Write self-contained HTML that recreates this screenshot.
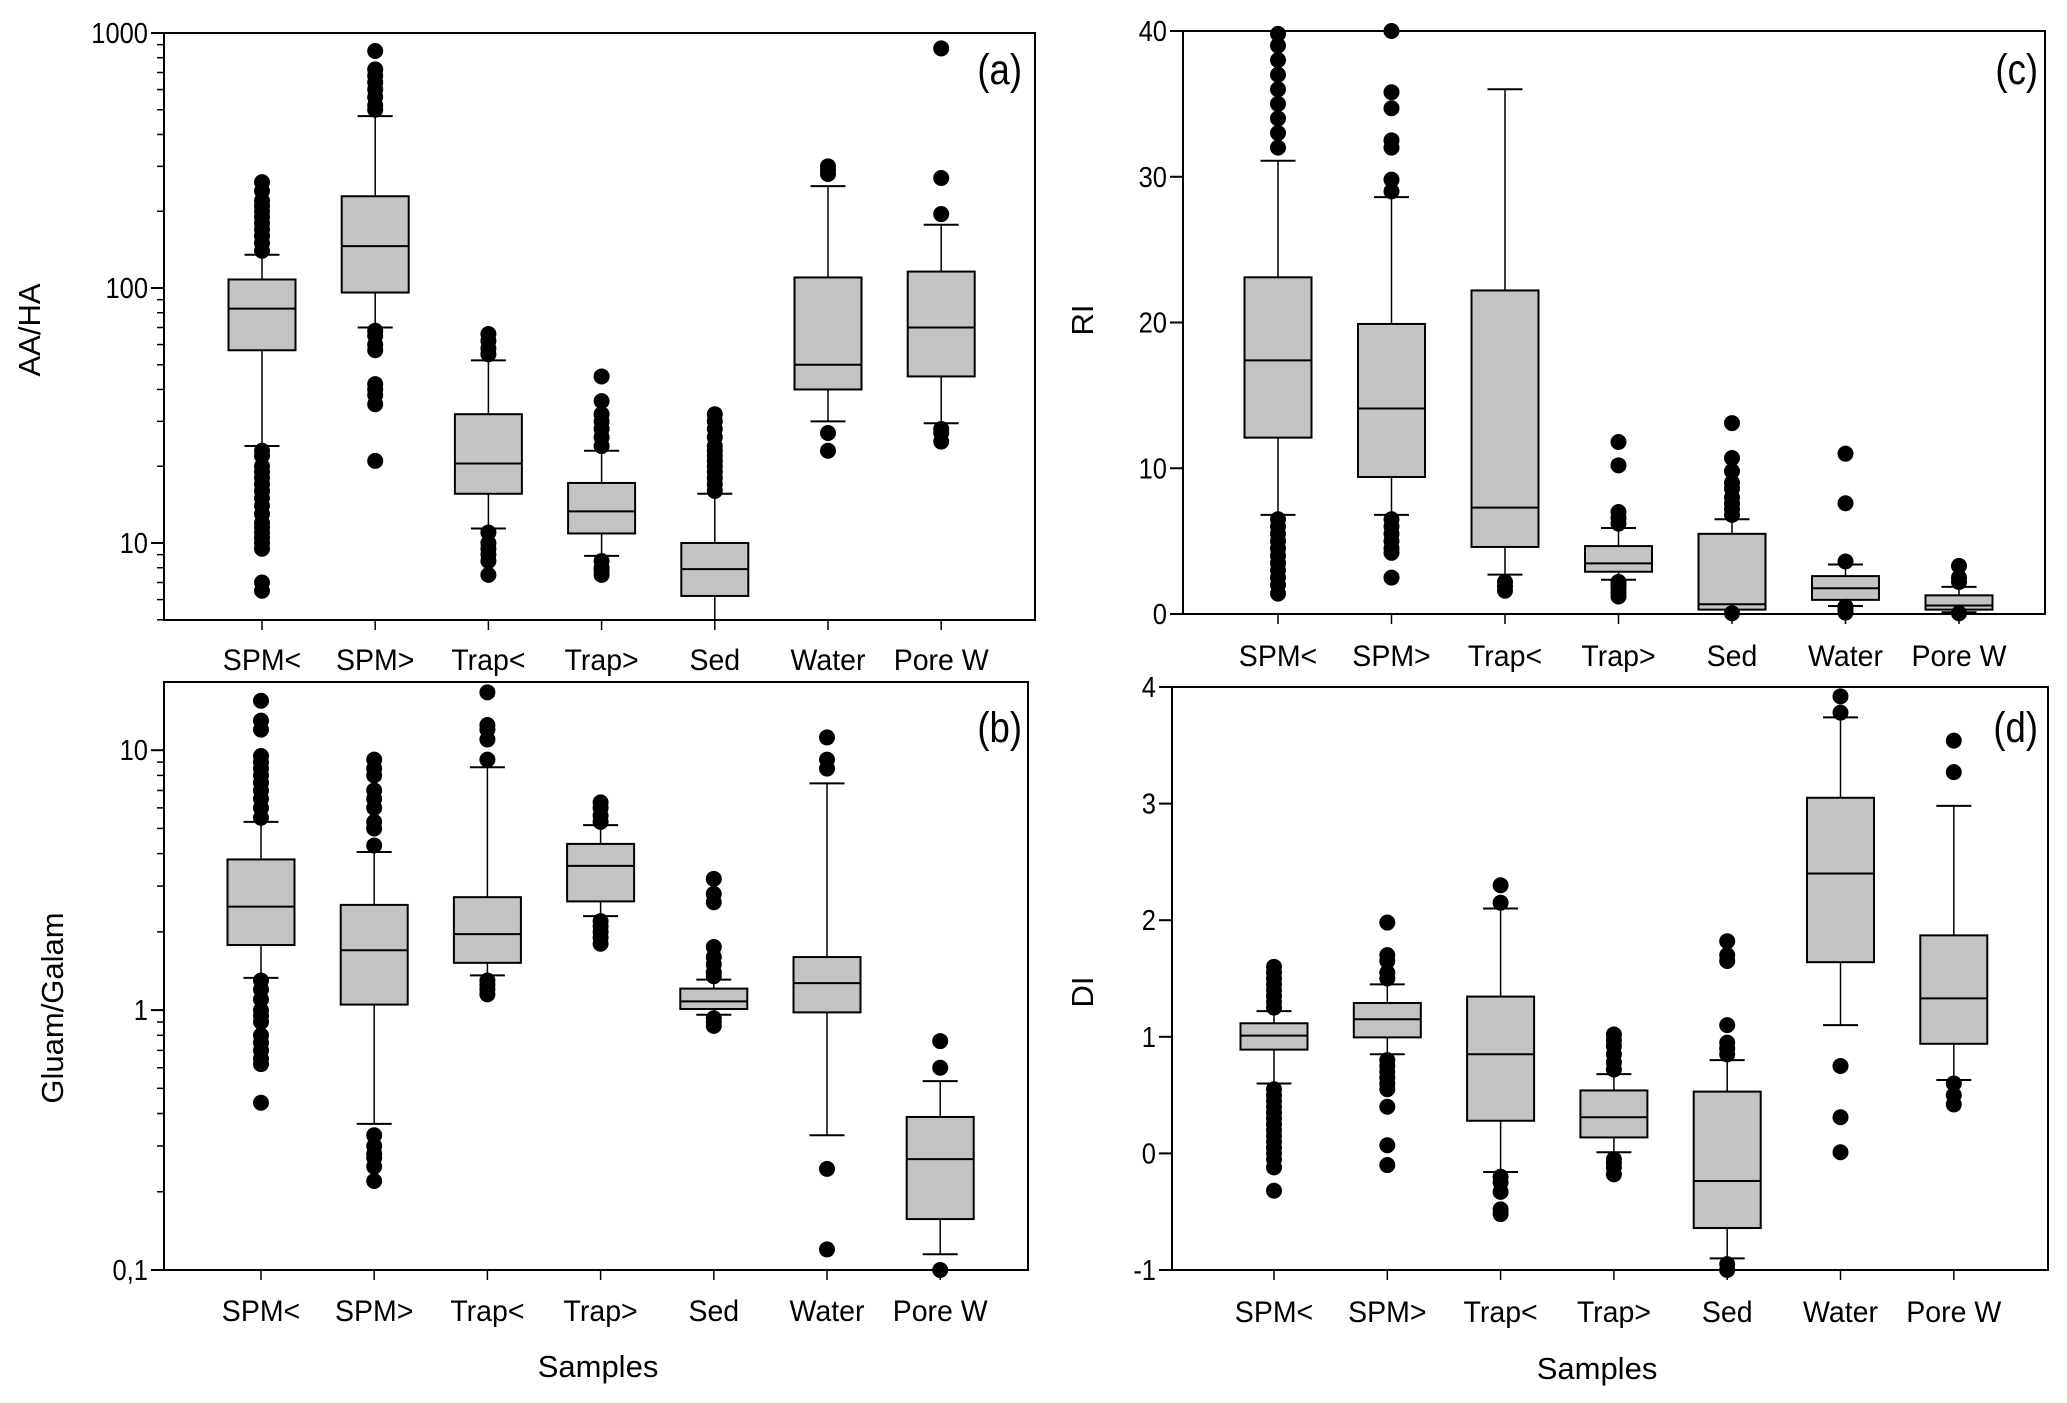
<!DOCTYPE html>
<html><head><meta charset="utf-8"><style>
html,body{margin:0;padding:0;background:#fff;}
svg{display:block;font-family:"Liberation Sans",Arial,sans-serif;}
</style></head><body>
<svg id="fig" width="2067" height="1403" viewBox="0 0 2067 1403" xmlns="http://www.w3.org/2000/svg"></svg>
<script>
// ---- shared categories ----
const categories = ["SPM<","SPM>","Trap<","Trap>","Sed","Water","Pore W"];

// ---- panel (a) AA/HA ----
const aWhiskLow = [24,70,11.4,8.9,4.5,30,29.5];
const aQ1 = [57,96,15.6,10.9,6.2,40,45];
const aMedian = [83,146,20.5,13.3,7.9,50,70];
const aQ3 = [108,229,32,17.2,10,110,116];
const aWhiskHigh = [135,472,52,23,15.6,251,177];
const aOutliers = [
  [140,150,160,170,180,190,200,210,220,240,260,23,22,20,19,18,17,16,15,14,13,12,11.5,11,10.5,10,9.5,7,6.5],
  [500,520,560,600,640,680,720,850,68,65,60,57,42,40,38,35,21],
  [55,58,62,66,11,10,9.5,9,8.5,7.5],
  [24,26,28,30,32,36,45,8.5,8,7.8,7.5],
  [16,17,18,19,20,21,22,23,24,26,28,30,32],
  [280,290,300,27,23],
  [870,270,195,28,27,25]
];
const aTicks = [10,100,1000];
const aTickLabels = ["10","100","1000"];

// ---- panel (b) Gluam/Galam ----
const bWhiskLow = [1.33,0.365,1.36,2.3,0.96,0.33,0.115];
const bQ1 = [1.78,1.05,1.52,2.62,1.01,0.98,0.157];
const bMedian = [2.5,1.7,1.96,3.59,1.08,1.27,0.267];
const bQ3 = [3.8,2.54,2.72,4.36,1.21,1.6,0.388];
const bWhiskHigh = [5.3,4.06,8.6,5.15,1.31,7.45,0.533];
const bOutliers = [
  [5.5,6,6.5,7,7.5,8,8.5,9,9.5,12,13,15.5,1.3,1.2,1.1,1.0,0.95,0.9,0.8,0.75,0.7,0.65,0.62,0.44],
  [4.3,5,5.3,6,6.5,7,8,8.5,9.2,0.33,0.3,0.28,0.27,0.25,0.22],
  [9.2,11,12,12.5,16.7,1.3,1.25,1.2,1.15],
  [5.3,5.6,6,6.3,2.2,2.1,2,1.9,1.8],
  [1.35,1.4,1.5,1.6,1.75,2.6,2.8,3.2,0.93,0.9,0.87],
  [8.5,9.2,11.2,0.245,0.12],
  [0.76,0.6,0.1]
];
const bTicks = [0.1,1,10];
const bTickLabels = ["0,1","1","10"];

// ---- panel (c) RI ----
const cWhiskLow = [6.8,6.8,2.7,2.35,0,0.55,0.12];
const cQ1 = [12.1,9.4,4.6,2.9,0.3,0.97,0.3];
const cMedian = [17.4,14.1,7.3,3.47,0.67,1.77,0.58];
const cQ3 = [23.1,19.9,22.2,4.66,5.5,2.6,1.28];
const cWhiskHigh = [31.1,28.6,36,5.9,6.5,3.4,1.86];
const cOutliers = [
  [32,33,34,35,36,37,38,39,39.8,6.5,6,5.5,5,4.5,4,3.5,3,2.5,2,1.4],
  [29,29.8,32,32.5,34.7,35.8,40,6.5,6,5.5,5,4.5,4.2,2.5],
  [2.2,1.9,1.6],
  [6.2,6.6,7,10.2,11.8,2.2,2,1.8,1.5,1.2],
  [6.8,7.2,7.6,8,8.6,9,9.8,10.7,13.1,0.05],
  [3.6,7.6,11,0.5,0.3,0.1],
  [2.2,2.5,3.3,0.05]
];
const cTicks = [0,10,20,30,40];
const cTickLabels = ["0","10","20","30","40"];

// ---- panel (d) DI ----
const dWhiskLow = [0.6,0.85,-0.16,0.01,-0.9,1.1,0.63];
const dQ1 = [0.89,0.995,0.28,0.137,-0.64,1.64,0.94];
const dMedian = [1.01,1.15,0.85,0.31,-0.237,2.4,1.33];
const dQ3 = [1.116,1.29,1.345,0.54,0.53,3.05,1.87];
const dWhiskHigh = [1.22,1.45,2.1,0.68,0.8,3.74,2.98];
const dOutliers = [
  [1.25,1.3,1.35,1.4,1.45,1.5,1.55,1.6,0.55,0.5,0.45,0.4,0.35,0.3,0.25,0.2,0.15,0.1,0.05,0,-0.05,-0.12,-0.32],
  [1.5,1.55,1.65,1.7,1.98,0.8,0.75,0.7,0.65,0.6,0.55,0.4,0.07,-0.1],
  [2.15,2.3,-0.2,-0.25,-0.33,-0.48,-0.52],
  [0.72,0.78,0.85,0.92,0.97,1.02,-0.05,-0.08,-0.12,-0.18],
  [0.85,0.9,0.95,1.1,1.65,1.7,1.82,-0.95,-1],
  [3.78,3.92,0.75,0.31,0.01],
  [3.27,3.54,0.6,0.5,0.42]
];
const dTicks = [-1,0,1,2,3,4];
const dTickLabels = ["-1","0","1","2","3","4"];

const NS = "http://www.w3.org/2000/svg";
const svg = document.getElementById("fig");
function mk(tag, attrs, parent){
  const e = document.createElementNS(NS, tag);
  for (const k in attrs) e.setAttribute(k, attrs[k]);
  (parent||svg).appendChild(e);
  return e;
}
function txt(parent, x, y, s, size, anchor, sx){
  const t = mk("text", {x:0, y:0, "font-size":size, "text-anchor":anchor, fill:"#000",
    transform:`translate(${x},${y}) scale(${sx},1)`}, parent);
  t.textContent = s;
  return t;
}

function drawPanel(p){
  const g = mk("g", {});
  
  
  const L=p.left, T=p.top, R=p.right, B=p.bottom;
  const yScale = p.log
    ? v => B - (Math.log10(v) - Math.log10(p.min)) / (Math.log10(p.max) - Math.log10(p.min)) * (B - T)
    : v => B - (v - p.min) / (p.max - p.min) * (B - T);
  const step = p.xStep, x0 = p.x0;
  const xScale = i => x0 + i*step;
  const clampY = y => Math.max(T, Math.min(B, y));

  const frame = mk("rect", {x:L, y:T, width:R-L, height:B-T, fill:"none", stroke:"#000", "stroke-width":2}, g);
  
  

  const yAxis = mk("g", {}, g);
  
  
  p.ticks.forEach((v,i)=>{
    const y = yScale(v);
    mk("line", {x1:L-13, x2:L, y1:y, y2:y, stroke:"#000", "stroke-width":2}, yAxis);
    const t = txt(yAxis, L-16, y+10, p.tickLabels[i], 29, "end", 0.88);
    
    
  });
  if (p.log){
    const lo = Math.floor(Math.log10(p.min)), hi = Math.ceil(Math.log10(p.max));
    for (let e=lo; e<hi; e++){
      for (let m=2; m<=9; m++){
        const v = m*Math.pow(10,e);
        if (v < p.min || v > p.max) continue;
        const y = yScale(v);
        mk("line", {x1:L-7, x2:L, y1:y, y2:y, stroke:"#000", "stroke-width":1.5}, yAxis);
      }
    }
  }
  const yt = txt(g, 0, 0, p.yTitle, 31, "middle", 1);
  yt.setAttribute("transform", `translate(${p.yTitleX},${p.yTitleY}) rotate(-90)`);
  
  

  const xAxis = mk("g", {}, g);
  
  
  categories.forEach((c,i)=>{
    const x = xScale(i);
    mk("line", {x1:x, x2:x, y1:B, y2:B+10, stroke:"#000", "stroke-width":1.5}, xAxis);
    const t = txt(xAxis, x, p.xLabelY, c, 30, "middle", 0.95);
    
    
  });
  if (p.xTitle){
    const xt = txt(g, p.xTitleX, p.xTitleY, "Samples", 31, "middle", 1);
    
    
  }

  const bw = 67, cap = 35;
  categories.forEach((c,i)=>{
    const x = xScale(i);
    const bg = mk("g", {}, g);
    
    
    const yWL = clampY(yScale(Math.max(p.wlo[i], p.min))), yWH = clampY(yScale(p.whi[i]));
    const yQ1 = yScale(p.q1[i]), yQ3 = yScale(p.q3[i]), yM = yScale(p.med[i]);
    mk("line", {x1:x, x2:x, y1:yQ3, y2:yWH, stroke:"#000", "stroke-width":1.5}, bg);
    mk("line", {x1:x, x2:x, y1:yQ1, y2:yWL, stroke:"#000", "stroke-width":1.5}, bg);
    if (p.wlo[i] >= p.min) mk("line", {x1:x-cap/2, x2:x+cap/2, y1:yWL, y2:yWL, stroke:"#000", "stroke-width":2}, bg);
    mk("line", {x1:x-cap/2, x2:x+cap/2, y1:yWH, y2:yWH, stroke:"#000", "stroke-width":2}, bg);
    mk("rect", {x:x-bw/2, y:yQ3, width:bw, height:yQ1-yQ3, fill:"#c3c3c3", stroke:"#000", "stroke-width":2}, bg);
    mk("line", {x1:x-bw/2, x2:x+bw/2, y1:yM, y2:yM, stroke:"#000", "stroke-width":2}, bg);
    p.out[i].forEach(v=>{
      const cy = yScale(v);
      const o = mk("circle", {cx:x, cy:cy, r:8, fill:"#000"}, bg);
      
      
    });
  });

  const pl = txt(g, p.tagX, p.tagY, "(" + p.id + ")", 43, "end", 0.85);
  
  
}

drawPanel({id:"a", left:164, top:33, right:1035, bottom:620, log:true, min:4.99, max:1000,
  ticks:aTicks, tickLabels:aTickLabels, x0:262, xStep:113.2, xLabelY:670,
  wlo:aWhiskLow, q1:aQ1, med:aMedian, q3:aQ3, whi:aWhiskHigh, out:aOutliers,
  yTitle:"AA/HA", yTitleX:40, yTitleY:330, tagX:1022, tagY:84});
drawPanel({id:"b", left:164, top:682, right:1028, bottom:1270, log:true, min:0.1, max:18.3,
  ticks:bTicks, tickLabels:bTickLabels, x0:261, xStep:113.2, xLabelY:1321,
  wlo:bWhiskLow, q1:bQ1, med:bMedian, q3:bQ3, whi:bWhiskHigh, out:bOutliers,
  yTitle:"Gluam/Galam", yTitleX:63, yTitleY:1008, tagX:1022, tagY:742,
  xTitle:true, xTitleX:598, xTitleY:1377});
drawPanel({id:"c", left:1183, top:31, right:2045, bottom:614, log:false, min:0, max:40,
  ticks:cTicks, tickLabels:cTickLabels, x0:1278, xStep:113.5, xLabelY:666,
  wlo:cWhiskLow, q1:cQ1, med:cMedian, q3:cQ3, whi:cWhiskHigh, out:cOutliers,
  yTitle:"RI", yTitleX:1093, yTitleY:320, tagX:2038, tagY:84});
drawPanel({id:"d", left:1172, top:687, right:2048, bottom:1270, log:false, min:-1, max:4,
  ticks:dTicks, tickLabels:dTickLabels, x0:1274, xStep:113.3, xLabelY:1322,
  wlo:dWhiskLow, q1:dQ1, med:dMedian, q3:dQ3, whi:dWhiskHigh, out:dOutliers,
  yTitle:"DI", yTitleX:1093, yTitleY:992, tagX:2038, tagY:742,
  xTitle:true, xTitleX:1597, xTitleY:1379});
</script>
</body></html>
